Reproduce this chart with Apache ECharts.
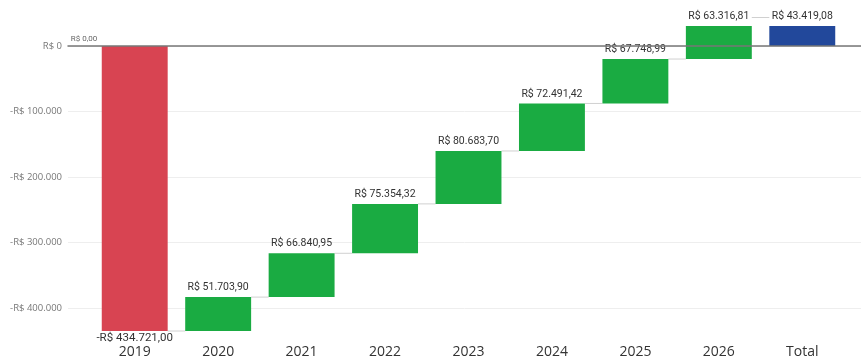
<!DOCTYPE html>
<html>
<head>
<meta charset="utf-8">
<script src="https://cdn.jsdelivr.net/npm/echarts@6/dist/echarts.min.js"></script>
<style>
  html, body { margin: 0; padding: 0; background: #fff; }
  #chart { width: 861px; height: 360px; }
</style>
</head>
<body>
<div id="chart"></div>
<script>
// Yearly cash-flow waterfall (values in R$)
const categories = ['2019', '2020', '2021', '2022', '2023', '2024', '2025', '2026', 'Total'];
const changes = [-434721.00, 51703.90, 66840.95, 75354.32, 80683.70, 72491.42, 67748.99, 63316.81];
const totalValue = 43419.08;
const yTicks = [0, -100000, -200000, -300000, -400000];
const yTickLabels = ['R$ 0', '-R$ 100.000', '-R$ 200.000', '-R$ 300.000', '-R$ 400.000'];

const RED = '#d84452', GREEN = '#1aab42', BLUE = '#22489b';
const Y_MIN = -434721, Y_MAX = 30500;

// Brazilian currency formatting: R$ 12.345,67
function brl(v) {
  const neg = v < 0;
  const fixed = Math.abs(v).toFixed(2);
  let [ip, dp] = fixed.split('.');
  ip = ip.replace(/\B(?=(\d{3})+(?!\d))/g, '.');
  return (neg ? '-R$ ' : 'R$ ') + ip + ',' + dp;
}

// running totals: start/end of each floating bar
const starts = [], ends = [];
let run = 0;
changes.forEach(c => { starts.push(run); run += c; ends.push(run); });
starts.push(0); ends.push(totalValue);

const baseData = starts.map((s, i) => i === categories.length - 1 ? 0 : s);
const deltaData = categories.map((c, i) => {
  const v = i === categories.length - 1 ? totalValue : changes[i];
  const color = i === categories.length - 1 ? BLUE : (v < 0 ? RED : GREEN);
  return {
    value: v,
    itemStyle: { color },
    label: { position: v < 0 ? 'bottom' : 'top', fontSize: v < 0 ? 11.5 : 10.5, distance: v < 0 ? 1 : 4 }
  };
});

// connector segments between consecutive bars
const connectorData = ends.slice(0, categories.length - 1).map((v, i) => [i, v]);

const chart = echarts.init(document.getElementById('chart'));
chart.setOption({
  animation: false,
  grid: [
    { left: 68, right: 0, top: 26, bottom: 29 },
    { left: 93, right: 17, top: 26, bottom: 29 }
  ],
  xAxis: [
    {
      gridIndex: 0, type: 'value', min: 0, max: 1, z: 5,
      axisLine: { show: true, onZero: true, lineStyle: { color: '#777', width: 1.5 } },
      axisTick: { show: false }, axisLabel: { show: false }, splitLine: { show: false }
    },
    {
      gridIndex: 1, type: 'category', data: categories,
      axisLine: { show: false }, axisTick: { show: false },
      axisLabel: { fontSize: 14, color: '#333', margin: 14, fontFamily: 'Open Sans' }
    }
  ],
  yAxis: [
    {
      gridIndex: 0, type: 'value', min: Y_MIN, max: Y_MAX,
      axisLine: { show: false },
      axisTick: { show: false, customValues: yTicks },
      axisLabel: {
        customValues: yTicks, fontSize: 9.5, color: '#777', margin: 6, fontFamily: 'Open Sans',
        formatter: v => yTickLabels[yTicks.indexOf(v)]
      },
      splitLine: { show: true, lineStyle: { color: '#eeeeee', width: 1 } }
    },
    {
      gridIndex: 1, type: 'value', min: Y_MIN, max: Y_MAX, show: false,
      splitLine: { show: false }
    }
  ],
  series: [
    {
      type: 'bar', xAxisIndex: 1, yAxisIndex: 1, stack: 'wf', stackStrategy: 'all',
      silent: true, barWidth: '79%',
      itemStyle: { color: 'transparent' },
      data: baseData
    },
    {
      type: 'bar', xAxisIndex: 1, yAxisIndex: 1, stack: 'wf', stackStrategy: 'all',
      barWidth: '79%', clip: true,
      label: {
        show: true, color: '#333', fontFamily: 'Roboto',
        formatter: p => brl(p.value)
      },
      data: deltaData
    },
    {
      type: 'custom', xAxisIndex: 1, yAxisIndex: 1, clip: false, z: 1, silent: true,
      data: connectorData,
      renderItem: (params, api) => {
        const i = api.value(0), v = api.value(1);
        const band = api.size([1, 0])[0];
        const half = band * 0.79 / 2;
        const a = api.coord([i, v]);
        const b = api.coord([i + 1, v]);
        const children = [{
          type: 'line',
          shape: { x1: a[0] + half, y1: a[1], x2: b[0] - half, y2: b[1] },
          style: { stroke: '#d0d0d0', lineWidth: 1 }
        }];
        if (i === 0) {
          const s = api.coord([0, starts[0]]);
          children.push({
            type: 'text',
            style: {
              text: brl(starts[0]), x: s[0] - half - 31, y: s[1] - 3,
              fill: '#666', fontSize: 8, fontFamily: 'Roboto', verticalAlign: 'bottom'
            }
          });
        }
        return { type: 'group', children };
      }
    }
  ]
});
</script>
</body>
</html>
